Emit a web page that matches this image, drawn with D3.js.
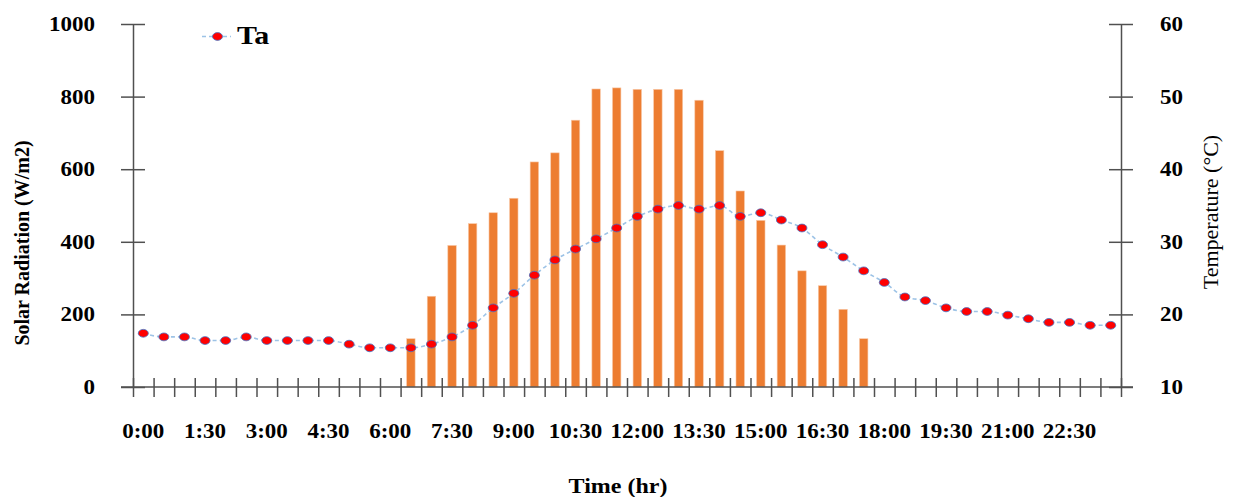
<!DOCTYPE html>
<html><head><meta charset="utf-8">
<script src="https://cdn.jsdelivr.net/npm/d3@7"></script>
<style>
html,body{margin:0;padding:0;background:#fff;}
svg{display:block;}
text{font-family:"Liberation Serif","Times New Roman",serif;fill:#000;}
</style></head>
<body>
<svg id="chart" width="1234" height="497"></svg>
<script>
const times = ["0:00","0:30","1:00","1:30","2:00","2:30","3:00","3:30","4:00","4:30","5:00","5:30",
"6:00","6:30","7:00","7:30","8:00","8:30","9:00","9:30","10:00","10:30","11:00","11:30",
"12:00","12:30","13:00","13:30","14:00","14:30","15:00","15:30","16:00","16:30","17:00","17:30",
"18:00","18:30","19:00","19:30","20:00","20:30","21:00","21:30","22:00","22:30","23:00","23:30"];
const radiation = [0,0,0,0,0,0,0,0,0,0,0,0,
0,133,250,390,450,480,520,620,645,735,821,824,
820,820,820,790,651,540,459,391,320,279,214,133,
0,0,0,0,0,0,0,0,0,0,0,0];
const temperature = [17.4,16.9,16.9,16.4,16.4,16.9,16.4,16.4,16.4,16.4,15.9,15.4,
15.4,15.4,15.9,16.9,18.5,20.9,22.9,25.4,27.5,29.0,30.4,31.9,
33.5,34.5,35.0,34.5,35.0,33.5,34.0,33.0,31.9,29.6,27.9,26.0,
24.4,22.4,21.9,20.9,20.4,20.4,19.9,19.4,18.9,18.9,18.5,18.5];
const leftTicks = [0,200,400,600,800,1000];
const rightTicks = [10,20,30,40,50,60];
const xLabelTimes = ["0:00","1:30","3:00","4:30","6:00","7:30","9:00","10:30","12:00","13:30","15:00","16:30","18:00","19:30","21:00","22:30"];
const seriesName = "Ta";

const X0 = 133, X1 = 1121, YT = 24, YB = 387;
const axisColor = "#505050";
const svg = d3.select("#chart");

const pad = 0.59;
const x = d3.scaleBand().domain(times).range([X0, X1]).paddingInner(pad).paddingOuter(pad/2);
const step = x.step();
const cx = t => x(t) + x.bandwidth()/2;
const yL = d3.scaleLinear().domain([0,1000]).range([YB, YT]);
const yR = d3.scaleLinear().domain([10,60]).range([YB, YT]);
const xb = d3.scaleLinear().domain([0, times.length]).range([X0, X1]);

// bars
svg.append("g").selectAll("rect").data(times.map((t,i)=>({t, v: radiation[i]})).filter(d=>d.v>0))
  .join("rect")
  .attr("x", d => x(d.t)).attr("width", x.bandwidth())
  .attr("y", d => yL(d.v)).attr("height", d => yL(0) - yL(d.v))
  .attr("fill", "#ED7D31").attr("stroke","#F8C9A8").attr("stroke-width",0.6);

function styleAxis(g){
  g.select(".domain").attr("stroke", axisColor).attr("stroke-width", 1.5);
  g.selectAll(".tick line").attr("stroke", axisColor).attr("stroke-width", 1.5);
}

// left axis
const gl = svg.append("g").attr("transform", `translate(${X0},0)`)
  .call(d3.axisLeft(yL).tickValues(leftTicks).tickSize(12).tickSizeOuter(0).tickFormat(d3.format("d")));
styleAxis(gl);
gl.selectAll(".tick line").attr("x2", -12).attr("x1", 12);
gl.selectAll(".tick text").remove();
leftTicks.forEach(v=>{
  svg.append("text").attr("transform", `translate(95,${yL(v)}) scale(1.15,1)`)
    .attr("text-anchor","end").attr("dy","0.35em")
    .style("font-size","20px").style("font-weight","bold").text(v);
});

// right axis
const gr = svg.append("g").attr("transform", `translate(${X1},0)`)
  .call(d3.axisRight(yR).tickValues(rightTicks).tickSize(12).tickSizeOuter(0));
styleAxis(gr);
gr.selectAll(".tick line").attr("x1", -12).attr("x2", 12);
gr.selectAll(".tick text").remove();
rightTicks.forEach(v=>{
  svg.append("text").attr("transform", `translate(1160,${yR(v)}) scale(1.15,1)`)
    .attr("text-anchor","start").attr("dy","0.35em")
    .style("font-size","20px").style("font-weight","bold").text(v);
});

// bottom axis
const gb = svg.append("g").attr("transform", `translate(0,${YB})`)
  .call(d3.axisBottom(xb).tickValues(d3.range(0, times.length+1)).tickSize(10).tickSizeOuter(0).tickFormat(""));
styleAxis(gb);
gb.selectAll(".tick line").attr("y1", -9).attr("y2", 10);
gb.select(".domain").attr("d", `M${X0-12},0H${X1+12}`);
xLabelTimes.forEach(t=>{
  svg.append("text").attr("transform", `translate(${cx(t)},438) scale(1.15,1)`)
    .attr("text-anchor","middle")
    .style("font-size","20px").style("font-weight","bold").text(t);
});

// temperature line
const line = d3.line().x((d,i)=>cx(times[i])).y(d=>yR(d)).curve(d3.curveMonotoneX);
svg.append("path").attr("d", line(temperature)).attr("fill","none")
  .attr("stroke","#9DC3E6").attr("stroke-width",1.6).attr("stroke-dasharray","4,3");
svg.append("g").selectAll("ellipse").data(temperature).join("ellipse")
  .attr("cx",(d,i)=>cx(times[i])).attr("cy",d=>yR(d))
  .attr("rx",5).attr("ry",3.9).attr("fill","#FF0000").attr("stroke","#4472C4").attr("stroke-width",0.8);

// legend
svg.append("line").attr("x1",202).attr("x2",231).attr("y1",36.5).attr("y2",36.5)
  .attr("stroke","#9DC3E6").attr("stroke-width",1.6).attr("stroke-dasharray","4,3");
svg.append("ellipse").attr("cx",217.5).attr("cy",36.5).attr("rx",5).attr("ry",3.9)
  .attr("fill","#FF0000").attr("stroke","#4472C4").attr("stroke-width",0.8);
svg.append("text").attr("transform","translate(237,44) scale(1.2,1)")
  .style("font-size","25px").style("font-weight","bold").text(seriesName);

// axis titles
svg.append("text").attr("transform","translate(29,243) rotate(-90)")
  .attr("text-anchor","middle").style("font-size","20px").style("font-weight","bold")
  .text("Solar Radiation (W/m2)");
svg.append("text").attr("transform","translate(1218,212) rotate(-90) scale(1.1,1)")
  .attr("text-anchor","middle").style("font-size","20px")
  .text("Temperature (°C)");
svg.append("text").attr("transform","translate(618,493) scale(1.2,1)")
  .attr("text-anchor","middle").style("font-size","20px").style("font-weight","bold")
  .text("Time (hr)");
</script>
</body></html>
